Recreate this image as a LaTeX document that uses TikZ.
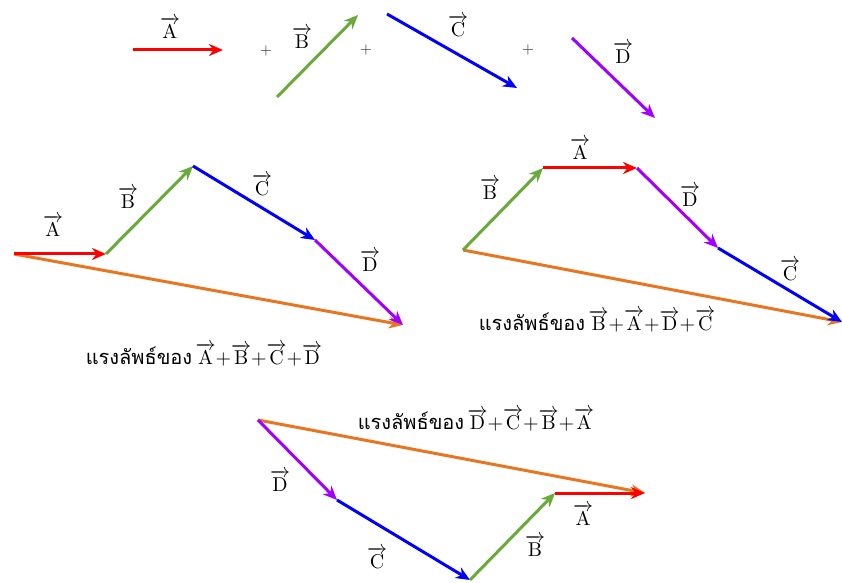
\documentclass[tikz,border=0pt]{standalone}
\usepackage{amsmath}
\usepackage{fontspec}
\newfontfamily\thaifont[Script=Thai]{Loma}
\usetikzlibrary{arrows.meta}

\definecolor{vred}{RGB}{255,0,0}
\definecolor{vgreen}{RGB}{106,170,58}
\definecolor{vblue}{RGB}{0,0,255}
\definecolor{vpurple}{RGB}{160,0,255}
\definecolor{vorange}{RGB}{232,118,32}

\newcommand{\vA}{\overrightarrow{\mathrm{A}}}
\newcommand{\vB}{\overrightarrow{\mathrm{B}}}
\newcommand{\vC}{\overrightarrow{\mathrm{C}}}
\newcommand{\vD}{\overrightarrow{\mathrm{D}}}

\begin{document}
\begin{tikzpicture}[x=0.5pt,y=-0.5pt,font=\fontsize{10}{12}\selectfont,
 vec/.style={line width=1.5pt,-{Stealth[length=7pt,width=6pt,inset=2.2pt]}},
 va/.style={vec,vred},
 vb/.style={vec,vgreen},
 vc/.style={vec,vblue},
 vd/.style={vec,vpurple},
 vr/.style={vec,vorange},
 lab/.style={inner sep=1pt},
 plus/.style={font=\fontsize{7}{8}\selectfont,text=black!75},
 res/.style={inner sep=1pt,font=\thaifont\fontsize{10}{12}\selectfont}]
\useasboundingbox (0,0) rectangle (842,583);
% the four vectors
\coordinate (ta0) at (133,50); \coordinate (ta1) at (223,50);
\coordinate (tb0) at (277,97); \coordinate (tb1) at (358,15);
\coordinate (tc0) at (387,14); \coordinate (tc1) at (517,88);
\coordinate (td0) at (572,38); \coordinate (td1) at (655,118);
\draw[va] (ta0)--(ta1);
\draw[vb] (tb0)--(tb1);
\draw[vc] (tc0)--(tc1);
\draw[vd] (td0)--(td1);
\node[lab] (tla) at (170,28) {$\vA$};
\node[lab] (tlb) at (302,38) {$\vB$};
\node[lab] (tlc) at (458,26) {$\vC$};
\node[lab] (tld) at (623,53) {$\vD$};
\node[plus] (pl1) at (266,51) {+};
\node[plus] (pl2) at (366,50) {+};
\node[plus] (pl3) at (528,50) {+};
% A+B+C+D
\coordinate (p0) at (14,254); \coordinate (p1) at (106,254);
\coordinate (p2) at (193,166); \coordinate (p3) at (315,240);
\coordinate (p4) at (403,325);
\draw[vr] (p0)--(p4);
\draw[va] (p0)--(p1);
\draw[vb] (p1)--(p2);
\draw[vc] (p2)--(p3);
\draw[vd] (p3)--(p4);
\node[lab] (pla) at (53,226) {$\vA$};
\node[lab] (plb) at (128,198) {$\vB$};
\node[lab] (plc) at (262,185) {$\vC$};
\node[lab] (pld) at (370,261) {$\vD$};
\node[res] (pres) at (204,355) {แรงลัพธ์ของ\,$\vA{+}\vB{+}\vC{+}\vD$};
% B+A+D+C
\coordinate (q0) at (463,250); \coordinate (q1) at (543,168);
\coordinate (q2) at (637,168); \coordinate (q3) at (718,248);
\coordinate (q4) at (842,322);
\draw[vr] (q0)--(q4);
\draw[vb] (q0)--(q1);
\draw[va] (q1)--(q2);
\draw[vd] (q2)--(q3);
\draw[vc] (q3)--(q4);
\node[lab] (qlb) at (490,189) {$\vB$};
\node[lab] (qla) at (580,149) {$\vA$};
\node[lab] (qld) at (690,196) {$\vD$};
\node[lab] (qlc) at (790,270) {$\vC$};
\node[res] (qres) at (597,321) {แรงลัพธ์ของ\,$\vB{+}\vA{+}\vD{+}\vC$};
% D+C+B+A
\coordinate (r0) at (258,420); \coordinate (r1) at (337,500);
\coordinate (r2) at (470,580); \coordinate (r3) at (555,493);
\coordinate (r4) at (645,493);
\draw[vr] (r0)--(r4);
\draw[vd] (r0)--(r1);
\draw[vc] (r1)--(r2);
\draw[vb] (r2)--(r3);
\draw[va] (r3)--(r4);
\node[lab] (rld) at (280,481) {$\vD$};
\node[lab] (rlc) at (377,558) {$\vC$};
\node[lab] (rlb) at (535,546) {$\vB$};
\node[lab] (rla) at (583,515) {$\vA$};
\node[res] (rres) at (476,420) {แรงลัพธ์ของ\,$\vD{+}\vC{+}\vB{+}\vA$};
\end{tikzpicture}
\end{document}
